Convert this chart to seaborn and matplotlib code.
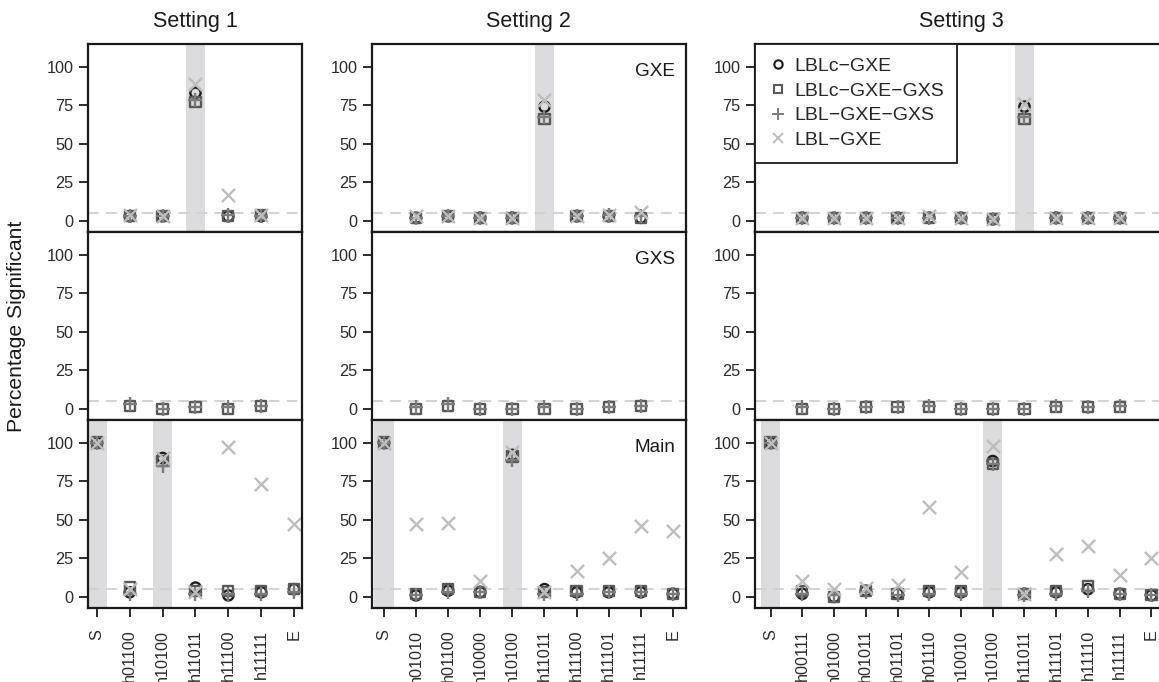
import numpy as np
import pandas as pd
import matplotlib
matplotlib.use("Agg")
import matplotlib.pyplot as plt
from matplotlib.lines import Line2D
import seaborn as sns

# ---------------- data ----------------
settings = ["Setting 1", "Setting 2", "Setting 3"]
effects = ["GXE", "GXS", "Main"]
methods = ["LBLc-GXE", "LBLc-GXE-GXS", "LBL-GXE-GXS", "LBL-GXE"]
method_labels = ["LBLc\u2212GXE", "LBLc\u2212GXE\u2212GXS", "LBL\u2212GXE\u2212GXS", "LBL\u2212GXE"]

cats_s1 = ["S", "h01100", "h10100", "h11011", "h11100", "h11111", "E"]
cats_s2 = ["S", "h01010", "h01100", "h10000", "h10100", "h11011", "h11100",
           "h11101", "h11111", "E"]
cats_s3 = ["S", "h00111", "h01000", "h01011", "h01101", "h01110", "h10010",
           "h10100", "h11011", "h11101", "h11110", "h11111", "E"]

true_gxe = ["h11011"]
true_gxs = []
true_main = ["S", "h10100"]

N = np.nan
# Setting 1
s1_gxe_lblc_gxe = [N, 3, 3, 83, 3, 3, N]
s1_gxe_lblc_gxe_gxs = [N, 3, 3, 77, 3, 4, N]
s1_gxe_lbl_gxe_gxs = [N, 3, 3, 78, 4, 3, N]
s1_gxe_lbl_gxe = [N, 4, 3, 89, 17, 4, N]
s1_gxs_lblc_gxe_gxs = [N, 2, 0, 1, 0, 2, N]
s1_gxs_lbl_gxe_gxs = [N, 3, 0, 1, 1, 2, N]
s1_main_lblc_gxe = [100, 3, 90, 6, 1, 3, 5]
s1_main_lblc_gxe_gxs = [100, 6, 88, 4, 4, 4, 5]
s1_main_lbl_gxe_gxs = [100, 2, 85, 2, 2, 2, 3]
s1_main_lbl_gxe = [100, 5, 90, 3, 97, 73, 47]
# Setting 2
s2_gxe_lblc_gxe = [N, 2, 3, 2, 2, 74, 3, 3, 2, N]
s2_gxe_lblc_gxe_gxs = [N, 2, 3, 2, 2, 66, 3, 3, 2, N]
s2_gxe_lbl_gxe_gxs = [N, 2, 3, 2, 2, 67, 3, 4, 3, N]
s2_gxe_lbl_gxe = [N, 3, 3, 2, 2, 78, 3, 4, 6, N]
s2_gxs_lblc_gxe_gxs = [N, 0, 2, 0, 0, 0, 0, 1, 2, N]
s2_gxs_lbl_gxe_gxs = [N, 1, 3, 0, 0, 1, 0, 1, 2, N]
s2_main_lblc_gxe = [100, 1, 4, 3, 92, 5, 3, 3, 3, 2]
s2_main_lblc_gxe_gxs = [100, 2, 5, 3, 91, 3, 4, 4, 4, 2]
s2_main_lbl_gxe_gxs = [100, 1, 3, 3, 89, 2, 2, 3, 3, 2]
s2_main_lbl_gxe = [100, 47, 48, 10, 94, 3, 17, 25, 46, 43]
# Setting 3
s3_gxe_lblc_gxe = [N, 2, 2, 2, 2, 2, 2, 1, 74, 2, 2, 2, N]
s3_gxe_lblc_gxe_gxs = [N, 2, 2, 2, 2, 2, 2, 1, 66, 2, 2, 2, N]
s3_gxe_lbl_gxe_gxs = [N, 2, 2, 2, 2, 2, 2, 1, 67, 2, 2, 2, N]
s3_gxe_lbl_gxe = [N, 2, 2, 2, 2, 3, 2, 1, 76, 2, 2, 2, N]
s3_gxs_lblc_gxe_gxs = [N, 0, 0, 1, 1, 1, 0, 0, 0, 1, 1, 1, N]
s3_gxs_lbl_gxe_gxs = [N, 1, 0, 1, 1, 2, 0, 0, 0, 2, 1, 2, N]
s3_main_lblc_gxe = [100, 2, 0, 4, 2, 3, 3, 88, 2, 3, 5, 2, 1]
s3_main_lblc_gxe_gxs = [100, 4, 0, 4, 2, 4, 4, 86, 2, 4, 7, 2, 1]
s3_main_lbl_gxe_gxs = [100, 2, 1, 3, 1, 2, 2, 86, 1, 2, 4, 2, 1]
s3_main_lbl_gxe = [100, 10, 5, 6, 8, 58, 16, 98, 2, 28, 33, 14, 25]

# ---------------- assemble long table ----------------
cats_by_setting = {"Setting 1": cats_s1, "Setting 2": cats_s2, "Setting 3": cats_s3}
true_by_effect = {"GXE": true_gxe, "GXS": true_gxs, "Main": true_main}
series = {
    ("Setting 1", "GXE"): [s1_gxe_lblc_gxe, s1_gxe_lblc_gxe_gxs, s1_gxe_lbl_gxe_gxs, s1_gxe_lbl_gxe],
    ("Setting 1", "GXS"): [None, s1_gxs_lblc_gxe_gxs, s1_gxs_lbl_gxe_gxs, None],
    ("Setting 1", "Main"): [s1_main_lblc_gxe, s1_main_lblc_gxe_gxs, s1_main_lbl_gxe_gxs, s1_main_lbl_gxe],
    ("Setting 2", "GXE"): [s2_gxe_lblc_gxe, s2_gxe_lblc_gxe_gxs, s2_gxe_lbl_gxe_gxs, s2_gxe_lbl_gxe],
    ("Setting 2", "GXS"): [None, s2_gxs_lblc_gxe_gxs, s2_gxs_lbl_gxe_gxs, None],
    ("Setting 2", "Main"): [s2_main_lblc_gxe, s2_main_lblc_gxe_gxs, s2_main_lbl_gxe_gxs, s2_main_lbl_gxe],
    ("Setting 3", "GXE"): [s3_gxe_lblc_gxe, s3_gxe_lblc_gxe_gxs, s3_gxe_lbl_gxe_gxs, s3_gxe_lbl_gxe],
    ("Setting 3", "GXS"): [None, s3_gxs_lblc_gxe_gxs, s3_gxs_lbl_gxe_gxs, None],
    ("Setting 3", "Main"): [s3_main_lblc_gxe, s3_main_lblc_gxe_gxs, s3_main_lbl_gxe_gxs, s3_main_lbl_gxe],
}
rows = []
for (st, ef), vals_list in series.items():
    cats = cats_by_setting[st]
    for m, vals in zip(methods, vals_list):
        if vals is None:
            continue
        for i, (c, v) in enumerate(zip(cats, vals)):
            if not np.isnan(v):
                rows.append(dict(setting=st, effect=ef, method=m, cat=c, pos=i, value=v))
df = pd.DataFrame(rows)

# ---------------- style ----------------
sns.set_theme(style="ticks")
plt.rcParams["font.family"] = ["Liberation Sans", "DejaVu Sans"]
plt.rcParams["axes.edgecolor"] = "#1a1a1a"
plt.rcParams["axes.linewidth"] = 1.6
plt.rcParams["xtick.color"] = "#1a1a1a"
plt.rcParams["ytick.color"] = "#1a1a1a"

marker_of = {"LBLc-GXE": "o", "LBLc-GXE-GXS": "s", "LBL-GXE-GXS": "+", "LBL-GXE": "x"}
color_of = {"LBLc-GXE": "#1c1c1c", "LBLc-GXE-GXS": "#585858",
            "LBL-GXE-GXS": "#7c7c7c", "LBL-GXE": "#bdbdbd"}
size_of = {"LBLc-GXE": 55, "LBLc-GXE-GXS": 55, "LBL-GXE-GXS": 110, "LBL-GXE": 90}

W, H = 1159, 682
fig = plt.figure(figsize=(W / 100, H / 100), dpi=100)

col_px = [(88.3, 302.3), (372.0, 685.5), (755.0, 1167.0)]
xlims = [(-0.26, 6.25), (-0.37, 9.39), (-0.49, 12.49)]
row_px = [(44, 232), (232, 420), (420, 608)]
ylim = (-7.2, 114.6)


def px_axes(x0, x1, y0, y1):
    return fig.add_axes([x0 / W, (H - y1) / H, (x1 - x0) / W, (y1 - y0) / H])


axes = {}
for ci, st in enumerate(settings):
    cats = cats_by_setting[st]
    for ri, ef in enumerate(effects):
        ax = px_axes(col_px[ci][0], col_px[ci][1], row_px[ri][0], row_px[ri][1])
        axes[(ci, ri)] = ax
        # shaded true effects
        for t in true_by_effect[ef]:
            p = cats.index(t)
            ax.axvspan(p - 0.3, p + 0.3, color="#dcdcde", lw=0, zorder=0)
        ax.axhline(5, color="#cfcfcf", lw=1.3, ls=(0, (6, 4)), zorder=0.5)
        sub = df[(df.setting == st) & (df.effect == ef)]
        for m in methods:
            d = sub[sub.method == m]
            if d.empty:
                continue
            if marker_of[m] in ("o", "s"):
                sns.scatterplot(data=d, x="pos", y="value", ax=ax, marker=marker_of[m],
                                s=size_of[m], color=color_of[m], facecolors="none",
                                edgecolor=color_of[m], linewidth=1.7, zorder=3, legend=False)
            else:
                sns.scatterplot(data=d, x="pos", y="value", ax=ax, marker=marker_of[m],
                                s=size_of[m], color=color_of[m], linewidth=1.7,
                                zorder=3, legend=False)
        ax.set_xlim(*xlims[ci])
        ax.set_ylim(*ylim)
        ax.set_yticks([0, 25, 50, 75, 100])
        ax.set_xlabel("")
        ax.set_ylabel("")
        ax.tick_params(axis="y", length=6.5, width=1.3, labelsize=11.7, pad=4,
                       labelcolor="#2a2a2a")
        if ri == 2:
            ax.set_xticks(range(len(cats)))
            ax.set_xticklabels(cats, rotation=90, va="top", ha="center")
            ax.tick_params(axis="x", length=6.5, width=1.3, labelsize=11.7, pad=9,
                           labelcolor="#2a2a2a")
        else:
            ax.set_xticks([])
        for sp in ax.spines.values():
            sp.set_visible(True)
            sp.set_zorder(4)

# effect labels in the middle column
for ri, ef in enumerate(effects):
    axes[(1, ri)].text(0.968, 0.855, ef, transform=axes[(1, ri)].transAxes,
                       ha="right", va="center", fontsize=13.7, color="#1a1a1a")

# column titles
for ci, st in enumerate(settings):
    cx = (col_px[ci][0] + col_px[ci][1]) / 2
    fig.text(cx / W, 1 - 21 / H, st, ha="center", va="center", fontsize=15.5,
             color="#1a1a1a")

fig.text(17 / W, 1 - 326 / H, "Percentage Significant", rotation=90,
         ha="center", va="center", fontsize=15.2, color="#1a1a1a")

# legend
handles = []
for m, lab in zip(methods, method_labels):
    mk = marker_of[m]
    if mk in ("o", "s"):
        h = Line2D([], [], ls="none", marker=mk, markersize=6, markerfacecolor="none",
                   markeredgecolor=color_of[m], markeredgewidth=1.5, label=lab)
    else:
        h = Line2D([], [], ls="none", marker=mk, markersize=9 if mk == "+" else 7.5,
                   color=color_of[m], markeredgewidth=1.4, label=lab)
    handles.append(h)
leg = axes[(2, 0)].legend(handles=handles, loc="upper left", bbox_to_anchor=(0.0, 1.0),
                          borderaxespad=0, frameon=True, fancybox=False, fontsize=14,
                          handlelength=1.0, handletextpad=0.3, labelspacing=0.36,
                          borderpad=0.7)
leg.get_frame().set_edgecolor("#1a1a1a")
leg.get_frame().set_linewidth(1.3)
leg.get_frame().set_facecolor("white")
leg.get_frame().set_alpha(1)
leg.set_zorder(10)

fig.savefig("out.png", dpi=100)
